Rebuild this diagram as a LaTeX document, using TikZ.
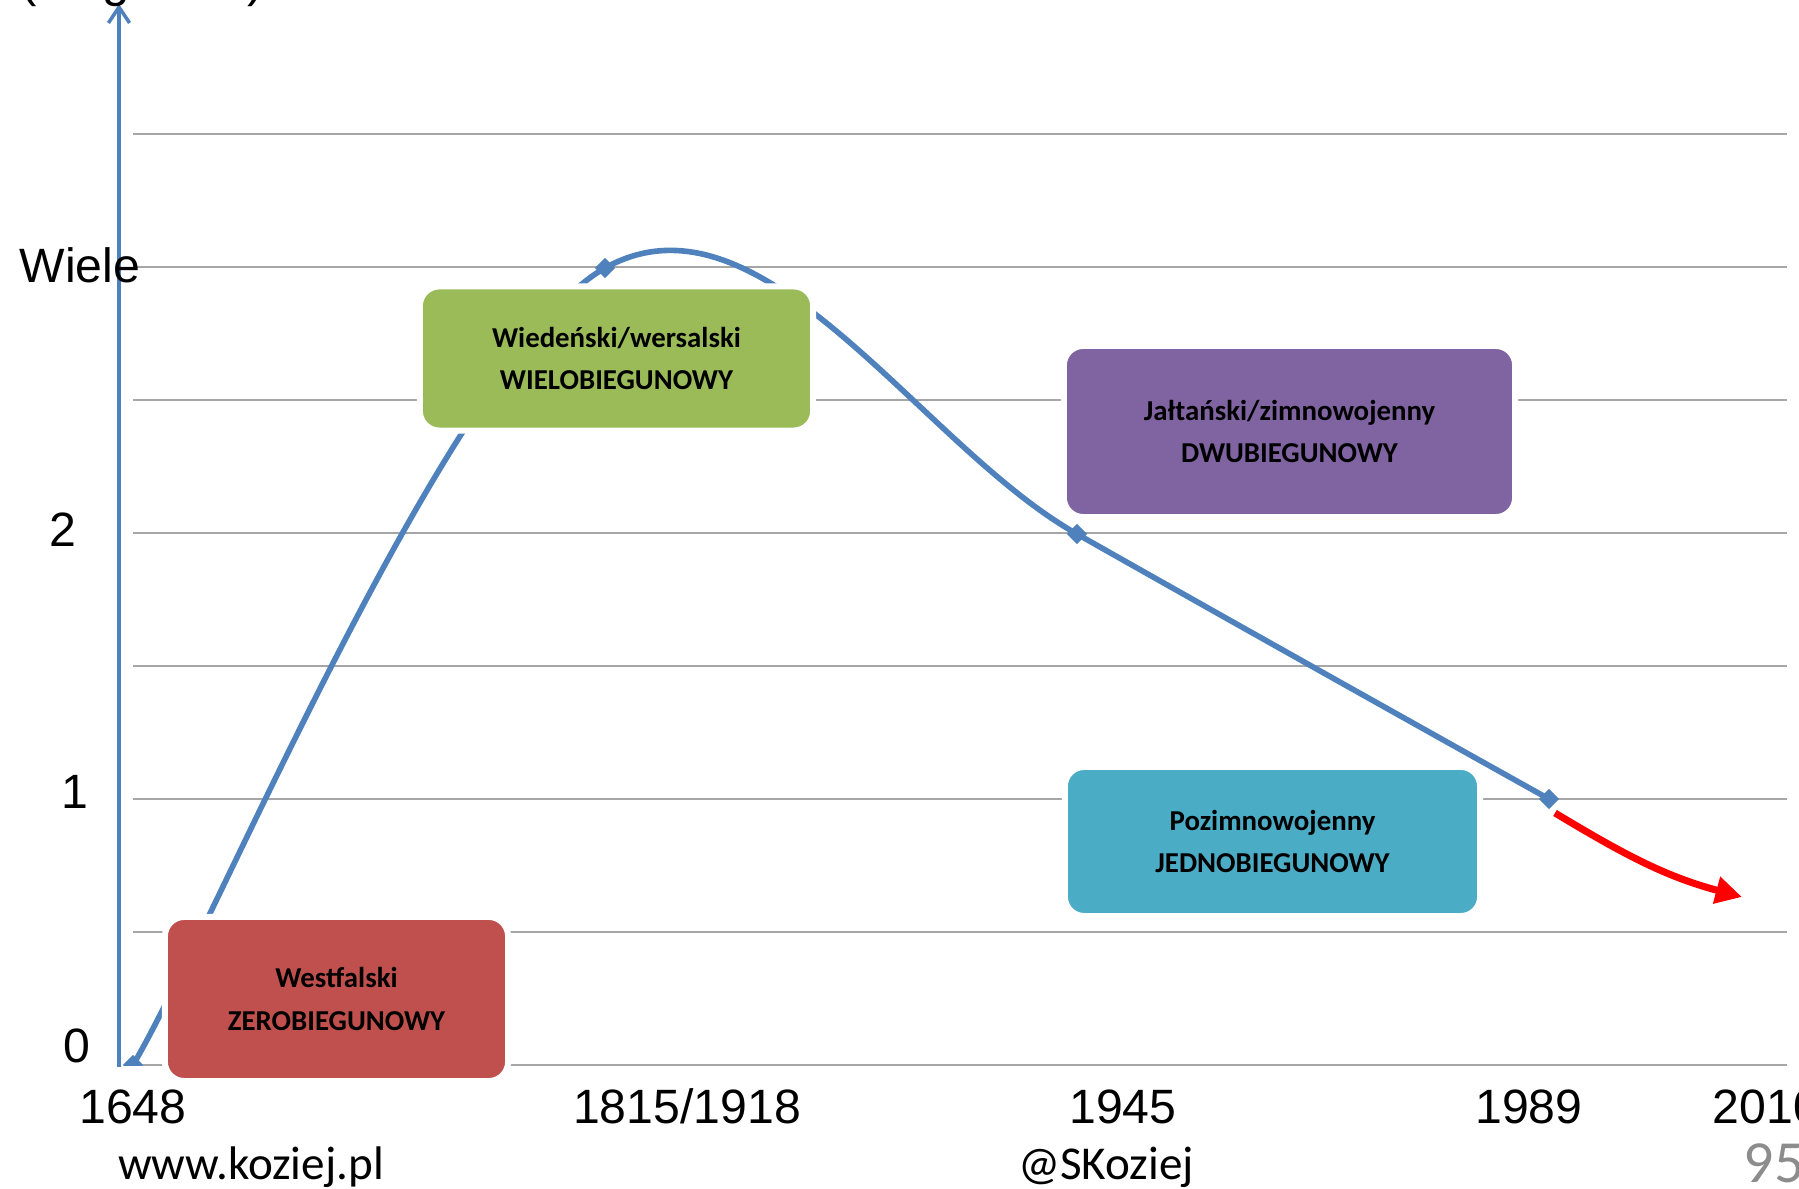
\documentclass[tikz,border=0pt]{standalone}
\usepackage{fontspec}
\setmainfont{Liberation Sans}
\newfontfamily\calibri{Carlito}
\usetikzlibrary{arrows.meta,shapes.geometric}
\definecolor{seriesblue}{HTML}{4F81BD}
\definecolor{boxred}{HTML}{C0504D}
\definecolor{boxgreen}{HTML}{9BBB59}
\definecolor{boxviolet}{HTML}{8064A2}
\definecolor{boxteal}{HTML}{4BACC6}
\definecolor{gridgrey}{HTML}{A6A6A6}
\definecolor{pagegrey}{HTML}{8C8C8C}
\tikzset{
	axislabel/.style={inner sep=0pt, anchor=base, font=\fontsize{13.7}{16}\selectfont},
	footer/.style={inner sep=0pt, anchor=base, font=\calibri\fontsize{13.4}{16}\selectfont},
	period/.style={draw=white, line width=1.7pt, rounded corners=5.5pt, align=center,
		font=\calibri\bfseries\fontsize{8.2}{12.2}\selectfont},
	marker/.style={diamond, fill=seriesblue, inner sep=0pt, minimum size=0.21cm}
}
\begin{document}
\begin{tikzpicture}[x=0.01cm,y=-0.01cm]
	\useasboundingbox (0,0) rectangle (1799,1189);
	% grid
	\foreach \lvl in {0,...,7}
		\draw[gridgrey, line width=0.6pt] (133,{1065-133*\lvl}) -- (1787,{1065-133*\lvl});
	\draw[seriesblue, line width=1pt, -{Straight Barb[length=4.5pt,width=6pt]}] (119,1067) coordinate (axisfoot) -- (119,4) coordinate (axistop);
	% data points
	\coordinate (p0) at (133,1065);
	\coordinate (p1) at (605,268);
	\coordinate (p2) at (1077,534);
	\coordinate (p3) at (1549,799);
	\begin{scope}
		\clip (119,0) rectangle (1799,1066);
		\draw[seriesblue, line width=1.6pt] (p0) .. controls (212,932) and (448,357) .. (p1)
			.. controls (762,180) and (920,446) .. (p2)
			.. controls (1234,623) and (1470,755) .. (p3);
		\foreach \pt in {p0,p1,p2,p3}
			\node[marker] (m\pt) at (\pt) {};
	\end{scope}
	\coordinate (trendstart) at (1555,813);
	\coordinate (trendend) at (1742,897);
	\draw[red, line width=2pt, -{Triangle[length=7.5pt,width=7.5pt]}] (trendstart) to[out=-31,in=165] (trendend);
	% periods
	\node[period, fill=boxred, minimum width=3.43cm, minimum height=1.64cm] (westfalski) at (336.5,999) {Westfalski\\ZEROBIEGUNOWY};
	\node[period, fill=boxgreen, minimum width=3.93cm, minimum height=1.44cm] (wiedenski) at (616.5,358.5) {Wiedeński/wersalski\\WIELOBIEGUNOWY};
	\node[period, fill=boxviolet, minimum width=4.51cm, minimum height=1.71cm] (jaltanski) at (1289.5,431.5) {Jałtański/zimnowojenny\\DWUBIEGUNOWY};
	\node[period, fill=boxteal, minimum width=4.15cm, minimum height=1.49cm] (pozimno) at (1272.5,841.5) {Pozimnowojenny\\JEDNOBIEGUNOWY};
	% axes labels
	\node[axislabel, anchor=base west, font=\fontsize{14}{16}\selectfont] (unit) at (20,-3) {(biegunów)};
	\node[axislabel, anchor=base west] (wiele) at (19,283) {Wiele};
	\node[axislabel] (two) at (63,547) {2};
	\node[axislabel] (one) at (75,809) {1};
	\node[axislabel] (zero) at (77,1063) {0};
	\node[axislabel] (y1648) at (133,1124) {1648};
	\node[axislabel] (y1815) at (687,1124) {1815/1918};
	\node[axislabel] (y1945) at (1123,1124) {1945};
	\node[axislabel] (y1989) at (1529,1124) {1989};
	\node[axislabel, anchor=base west] (y2010) at (1712,1124) {2010};
	% footer
	\node[footer] (site) at (251,1180) {www.koziej.pl};
	\node[footer] (handle) at (1106,1180) {@SKoziej};
	\node[footer, anchor=base west, text=pagegrey, font=\calibri\fontsize{17}{20}\selectfont] (pagenum) at (1743,1183) {95};
\end{tikzpicture}
\end{document}
